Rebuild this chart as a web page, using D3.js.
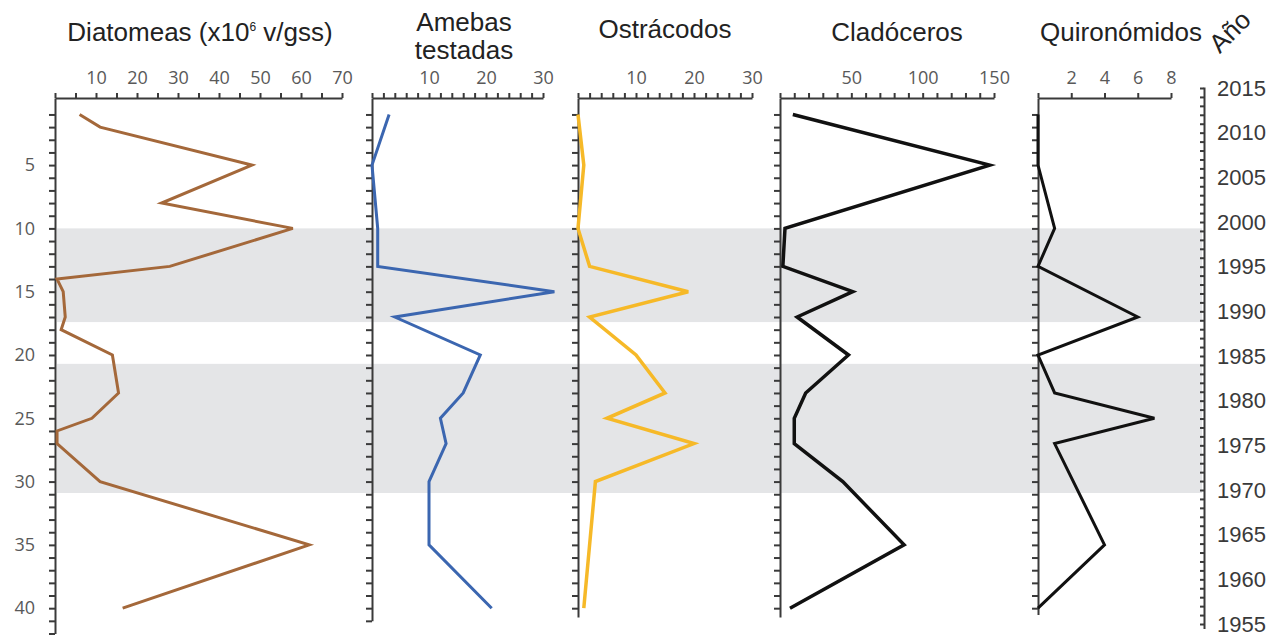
<!DOCTYPE html>
<html lang="es">
<head>
<meta charset="utf-8">
<title>Perfil estratigráfico</title>
<script src="https://cdn.jsdelivr.net/npm/d3@7"></script>
<style>
  body { margin: 0; background: #fff; }
  .title { font-family: "Liberation Sans", Arial, sans-serif; font-size: 26px; fill: #222; }
  .tick text { font-family: "Open Sans", sans-serif; font-size: 18px; fill: #595959; }
  .year .tick text { font-family: "Liberation Sans", Arial, sans-serif; font-size: 22px; fill: #3a3a3a; }
  .domain, .tick line { stroke: #3a3a3a; stroke-width: 2px; }
</style>
</head>
<body>
<div id="chart"></div>
<script>
// depth profile data (cm)
var depthTicks = [5, 10, 15, 20, 25, 30, 35, 40];
var bands = [[10, 17.4], [20.7, 30.9]];

var diatDepth = [1, 2, 5, 8, 10, 13, 14, 15, 17, 18, 20, 23, 25, 26, 27, 30, 35, 40];
var diatVal = [6, 11, 48, 26, 58, 28, 0.5, 2, 2.5, 1.5, 14, 15.5, 9, 0.5, 0.5, 11, 62, 16.5];
var diatTicks = [10, 20, 30, 40, 50, 60, 70];

var amebDepth = [1, 5, 10, 13, 15, 17, 20, 23, 25, 27, 30, 35, 40];
var amebVal = [3, 0, 1, 1, 32, 4, 19, 16, 12, 13, 10, 10, 21];
var amebTicks = [10, 20, 30];

var ostrDepth = [1, 5, 10, 13, 15, 17, 20, 23, 25, 27, 30, 40];
var ostrVal = [0, 1, 0, 2, 19, 2, 10, 15, 5, 20, 3, 1];
var ostrTicks = [10, 20, 30];

var cladDepth = [1, 5, 10, 13, 15, 17, 20, 23, 25, 27, 30, 35, 40];
var cladVal = [9, 147, 3.5, 2, 51, 12, 48, 18, 10, 10, 44, 87, 7];
var cladTicks = [50, 100, 150];

var quirDepth = [1, 5, 10, 13, 17, 20, 23, 25, 27, 35, 40];
var quirVal = [0, 0, 1, 0, 6, 0, 1, 7, 1, 4, 0];
var quirTicks = [2, 4, 6, 8];

var yearTicks = [2015, 2010, 2005, 2000, 1995, 1990, 1985, 1980, 1975, 1970, 1965, 1960, 1955];

var width = 1279, height = 638;
var axisTop = 98;

var svg = d3.select('#chart').append('svg')
    .attr('width', width)
    .attr('height', height);

var yScale = d3.scaleLinear().domain([-0.3, 42]).range([axisTop, 633.5]);

// shaded intervals
svg.selectAll('rect.band')
    .data(bands)
    .enter()
    .append('rect')
    .attr('class', 'band')
    .attr('x', 57)
    .attr('width', 1202 - 57)
    .attr('y', function (d) { return yScale(d[0]); })
    .attr('height', function (d) { return yScale(d[1]) - yScale(d[0]); })
    .attr('fill', '#e4e5e7');

var panels = [
    { depth: diatDepth, vals: diatVal, ticks: diatTicks, max: 70, minor: 5, x0: 55, x1: 342, bottom: 42, color: '#a4683a', width: 3, labels: true },
    { depth: amebDepth, vals: amebVal, ticks: amebTicks, max: 30, minor: 2, x0: 372, x1: 543, bottom: 41, color: '#3b66b0', width: 3, labels: false },
    { depth: ostrDepth, vals: ostrVal, ticks: ostrTicks, max: 30, minor: 2, x0: 578, x1: 752, bottom: 40.7, color: '#f6b928', width: 3.5, labels: false },
    { depth: cladDepth, vals: cladVal, ticks: cladTicks, max: 150, minor: 10, x0: 780, x1: 994, bottom: 40.7, color: '#111', width: 3.5, labels: false },
    { depth: quirDepth, vals: quirVal, ticks: quirTicks, max: 8, minor: 2, x0: 1038, x1: 1171, bottom: 40.5, color: '#111', width: 3, labels: false }
];

panels.forEach(function (p) {
    var x = d3.scaleLinear().domain([0, p.max]).range([p.x0, p.x1]);

    // top axis: minor ticks, then labelled ticks
    svg.append('g')
        .attr('transform', 'translate(0,' + axisTop + ')')
        .call(d3.axisTop(x).tickValues(d3.range(0, p.max + 0.001, p.minor)).tickSize(5).tickSizeOuter(0).tickFormat(''));
    svg.append('g')
        .attr('transform', 'translate(0,' + axisTop + ')')
        .call(d3.axisTop(x).tickValues(p.ticks).tickSize(0).tickPadding(14))
        .call(function (g) { g.select('.domain').remove(); });

    // left depth axis
    var yAxisScale = yScale.copy().domain([-0.3, p.bottom]).range([yScale(-0.3), yScale(p.bottom)]);
    svg.append('g')
        .attr('transform', 'translate(' + p.x0 + ',0)')
        .call(d3.axisLeft(yAxisScale).tickValues(d3.range(1, Math.floor(p.bottom) + 1)).tickSize(6).tickSizeOuter(0).tickFormat(''));
    if (p.labels) {
        svg.append('g')
            .attr('transform', 'translate(' + p.x0 + ',0)')
            .call(d3.axisLeft(yScale).tickValues(depthTicks).tickSize(0).tickPadding(20))
            .call(function (g) { g.select('.domain').remove(); });
    }

    var line = d3.line()
        .x(function (d) { return x(d[1]); })
        .y(function (d) { return yScale(d[0]); });

    svg.append('path')
        .attr('d', line(d3.zip(p.depth, p.vals)))
        .attr('fill', 'none')
        .attr('stroke', p.color)
        .attr('stroke-width', p.width)
        .attr('stroke-linejoin', 'miter');
});

// year axis on the right
var yearScale = d3.scaleLinear().domain([2015, 1955]).range([88, 624]);
var yearAxisScale = yearScale.copy().domain([2015.1, 1954.5]).range([yearScale(2015.1), yearScale(1954.5)]);
svg.append('g')
    .attr('transform', 'translate(1204,0)')
    .call(d3.axisLeft(yearAxisScale).tickValues(d3.range(1955, 2016)).tickSize(4).tickSizeOuter(0).tickFormat(''));
svg.append('g')
    .attr('class', 'year')
    .attr('transform', 'translate(1204,0)')
    .call(d3.axisRight(yearScale).tickValues(yearTicks).tickSize(0).tickPadding(13).tickFormat(d3.format('d')))
    .call(function (g) { g.select('.domain').remove(); });

// titles
var t1 = svg.append('text').attr('class', 'title').attr('x', 200).attr('y', 41).attr('text-anchor', 'middle');
t1.append('tspan').text('Diatomeas (x10');
t1.append('tspan').attr('font-size', 12).attr('dy', -10).text('6');
t1.append('tspan').attr('dy', 10).text(' v/gss)');

svg.append('text').attr('class', 'title').attr('x', 464).attr('y', 31).attr('text-anchor', 'middle').text('Amebas');
svg.append('text').attr('class', 'title').attr('x', 464).attr('y', 59).attr('text-anchor', 'middle').text('testadas');
svg.append('text').attr('class', 'title').attr('x', 665).attr('y', 38).attr('text-anchor', 'middle').text('Ostrácodos');
svg.append('text').attr('class', 'title').attr('x', 897).attr('y', 41).attr('text-anchor', 'middle').text('Cladóceros');
svg.append('text').attr('class', 'title').attr('x', 1121).attr('y', 41).attr('text-anchor', 'middle').text('Quironómidos');
svg.append('text').attr('class', 'title')
    .attr('transform', 'translate(1236,38) rotate(-45)')
    .attr('text-anchor', 'middle')
    .attr('font-size', 23)
    .text('Año');
</script>
</body>
</html>
